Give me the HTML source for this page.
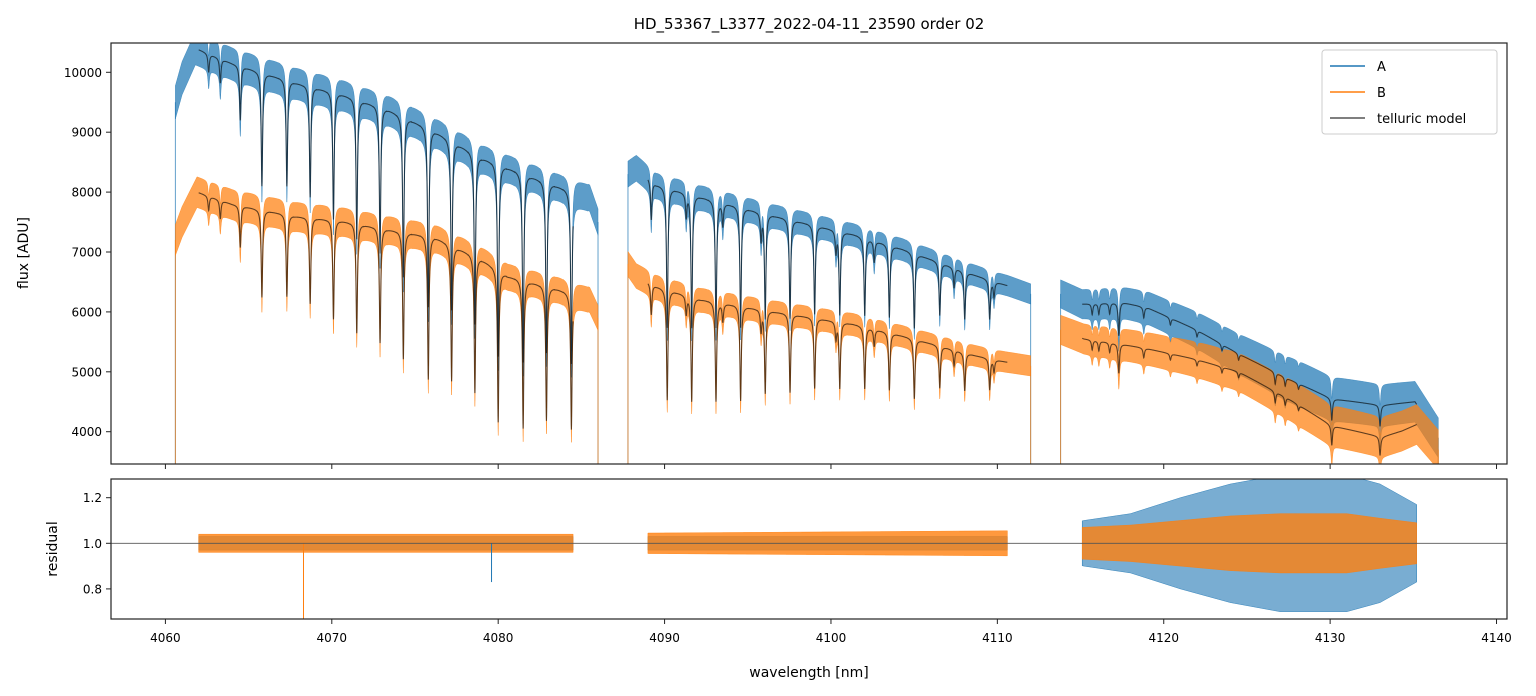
<!DOCTYPE html>
<html><head><meta charset="utf-8"><style>
body{margin:0;background:#fff}
svg{display:block;font-family:"DejaVu Sans","Liberation Sans",sans-serif}
</style></head><body>
<svg id="fig" width="1536" height="696" viewBox="0 0 1536 696" xmlns="http://www.w3.org/2000/svg">
<defs>
<clipPath id="cm"><rect x="111" y="43" width="1396" height="421"/></clipPath>
<clipPath id="cr"><rect x="111" y="479" width="1396" height="140"/></clipPath>
</defs>
<text x="809" y="29" font-size="15" text-anchor="middle">HD_53367_L3377_2022-04-11_23590  order 02</text>
<g id="mainMarks" clip-path="url(#cm)"></g>
<g id="resMarks" clip-path="url(#cr)"></g>
<rect x="111" y="43" width="1396" height="421" fill="none" stroke="#222" stroke-width="1.2"/>
<rect x="111" y="479" width="1396" height="140" fill="none" stroke="#222" stroke-width="1.2"/>
<g id="axes"></g>
<text transform="translate(28,253) rotate(-90)" font-size="14" text-anchor="middle">flux [ADU]</text>
<text transform="translate(57,549) rotate(-90)" font-size="14" text-anchor="middle">residual</text>
<text x="809" y="677" font-size="14" text-anchor="middle">wavelength [nm]</text>
<g>
<rect x="1322" y="50" width="175" height="84" rx="3" fill="#fff" fill-opacity="0.85" stroke="#ccc"/>
<line x1="1330" y1="66" x2="1365" y2="66" stroke="#1f77b4" stroke-width="1.5"/>
<text x="1377" y="71" font-size="13">A</text>
<line x1="1330" y1="92" x2="1365" y2="92" stroke="#ff7f0e" stroke-width="1.5"/>
<text x="1377" y="97" font-size="13">B</text>
<line x1="1330" y1="118" x2="1365" y2="118" stroke="#555" stroke-width="1.5"/>
<text x="1377" y="123" font-size="13">telluric model</text>
</g>
</svg>
<script>
// ---- data ----
const xTicks = [4060,4070,4080,4090,4100,4110,4120,4130,4140];
const yTicks = [4000,5000,6000,7000,8000,9000,10000];
const rTicks = [0.8,1.0,1.2];
const segObs = [[4060.6,4086.0],[4087.8,4112.0],[4113.8,4136.5]];
const segModel = [[4062.0,4084.5],[4089.0,4110.6],[4115.1,4135.2]];
const contALam = [4060.6,4061.0,4061.8,4064,4067.8,4070.6,4073.4,4076.2,4079.0,4080.6,4083.6,4085.5,4086.0, 4087.8,4088.3,4089.5,4092.2,4096.7,4101.3,4104.3,4108.7,4110.6,4112.0, 4113.8,4115.1,4117.5,4119.1,4121.9,4124.5,4127.5,4130.1,4133.1,4135.1,4136.5];
const contA = [9500,9900,10400,10150,9830,9635,9380,9020,8580,8410,8100,7900,7500, 8300,8400,8130,7920,7600,7300,7050,6610,6440,6300, 6300,6130,6160,6060,5710,5300,4880,4550,4440,4500,3900];
const contBLam = [4060.6,4061.0,4061.9,4064,4067.8,4070.6,4073.4,4076.2,4079.0,4080.6,4083.6,4085.5,4086.0, 4087.8,4088.3,4089.5,4092.2,4096.7,4101.3,4104.3,4108.7,4110.6,4112.0, 4113.8,4115.2,4117.5,4119.1,4121.9,4124.5,4127.5,4130.1,4133.1,4134.3,4135.2,4136.5];
const contB = [7200,7500,8000,7800,7600,7520,7380,7250,6880,6600,6380,6200,5900, 6800,6600,6430,6210,6000,5800,5600,5270,5160,5100, 5700,5550,5460,5380,5210,5000,4550,4100,3910,4010,4120,3700];
const lineCenters = [4062.6,4063.3,4064.5,4065.8,4067.3,4068.7,4070.1,4071.5,4072.9,4074.3,4075.8,4077.2,4078.6,4080.0,4081.5,4082.9,4084.4,
 4089.2,4090.16,4091.3,4091.63,4093.09,4093.5,4094.57,4095.8,4096.05,4097.54,4099.02,4100.3,4100.53,4102.03,4102.6,4103.51,4105.01,4106.54,4107.4,4108.04,4109.54,4109.8,
 4115.7,4116.1,4116.75,4117.3,4118.8,4120.4,4122.0,4123.5,4124.5,4126.7,4127.3,4128.1,4130.1,4133.0];
const lineDepths = [0.03,0.04,0.09,0.19,0.18,0.19,0.22,0.245,0.26,0.29,0.33,0.32,0.33,0.38,0.38,0.35,0.36,
 0.08,0.29,0.05,0.28,0.27,0.05,0.26,0.06,0.23,0.22,0.2,0.05,0.19,0.18,0.05,0.17,0.18,0.13,0.05,0.12,0.1,0.04,
 0.03,0.03,0.03,0.09,0.03,0.02,0.02,0.02,0.02,0.04,0.03,0.02,0.08,0.08];
const noiseLam = [4060,4086,4087,4112,4113,4120,4128,4137];
const noiseA = [280,220,220,170,230,280,380,330];
const noiseB = [260,210,210,170,240,280,350,330];
const resLam = [4062,4084.5,4089,4110.6,4115.2,4118,4121,4124,4127,4131,4133,4135.2];
const resA = [0.03,0.03,0.03,0.03,0.1,0.13,0.2,0.26,0.3,0.3,0.26,0.17];
const resB = [0.04,0.04,0.045,0.055,0.07,0.08,0.1,0.12,0.13,0.13,0.11,0.09];
// ---- scales ----
const X0=4056.73, X1=4140.63, PX0=111, PX1=1507;
const xS = l => PX0 + (l-X0)/(X1-X0)*(PX1-PX0);
const Y0=3461, Y1=10489;
const yM = v => 464 - (v-Y0)/(Y1-Y0)*421;
const R0=0.668, R1=1.282;
const yR = r => 619 - (r-R0)/(R1-R0)*140;
const NS='http://www.w3.org/2000/svg';
function interp(xs, ys, x){
  if(x<=xs[0]) return ys[0];
  for(let i=1;i<xs.length;i++){ if(x<=xs[i]){const t=(x-xs[i-1])/(xs[i]-xs[i-1]); return ys[i-1]+t*(ys[i]-ys[i-1]);} }
  return ys[ys.length-1];
}
function trans(l){
  let f=1;
  for(let i=0;i<lineCenters.length;i++){const d=l-lineCenters[i]; if(Math.abs(d)>1) continue; const g=0.05; f*=1-lineDepths[i]*g*g/(d*d+g*g);}
  return f;
}
function mk(tag, attrs, parent){const e=document.createElementNS(NS,tag); for(const k in attrs) e.setAttribute(k,attrs[k]); parent.appendChild(e); return e;}
const main=document.getElementById('mainMarks'), res=document.getElementById('resMarks'), ax=document.getElementById('axes');
const colA='#1f77b4', colB='#ff7f0e';
function band(lamK, valK, noiseK, seg, col, name){
  const up=[], lo=[];
  for(let l=seg[0]; l<=seg[1]+1e-9; l+=0.01){
    const c=interp(lamK,valK,l)*trans(l), n=interp(noiseLam,noiseK,l);
    up.push(xS(l).toFixed(2)+','+yM(c+n).toFixed(2)); lo.push(xS(l).toFixed(2)+','+yM(c-n).toFixed(2));
  }
  const p=mk('polygon',{points:up.concat(lo.reverse()).join(' '),fill:col,'fill-opacity':0.72,stroke:col,'stroke-width':0.5,'stroke-opacity':0.8},main);
  
  
  [seg[0],seg[1]].forEach(l=>{
    const e=mk('line',{x1:xS(l),x2:xS(l),y1:yM(interp(lamK,valK,l)),y2:470,stroke:col,'stroke-width':1,'stroke-opacity':0.7},main);
    
    
  });
}
segObs.forEach((s,i)=>{ band(contALam,contA,noiseA,s,colA,'spectrum-a-seg'+(i+1)); });
segObs.forEach((s,i)=>{ band(contBLam,contB,noiseB,s,colB,'spectrum-b-seg'+(i+1)); });
function model(lamK,valK,seg,name){
  const pts=[];
  for(let l=seg[0]; l<=seg[1]+1e-9; l+=0.01) pts.push(xS(l).toFixed(2)+','+yM(interp(lamK,valK,l)*trans(l)).toFixed(2));
  const p=mk('polyline',{points:pts.join(' '),fill:'none',stroke:'#000','stroke-opacity':0.62,'stroke-width':1.1},main);
  
  
}
segModel.forEach((s,i)=>{ model(contALam,contA,s,'telluric-model-a-seg'+(i+1)); model(contBLam,contB,s,'telluric-model-b-seg'+(i+1)); });
function rband(hw,col,seg,name,op){
  const up=[],lo=[];
  for(let l=seg[0]; l<=seg[1]+1e-9; l+=0.02){ const h=interp(resLam,hw,l); up.push(xS(l).toFixed(2)+','+yR(1+h).toFixed(2)); lo.push(xS(l).toFixed(2)+','+yR(1-h).toFixed(2)); }
  const p=mk('polygon',{points:up.concat(lo.reverse()).join(' '),fill:col,'fill-opacity':op,stroke:col,'stroke-width':0.5},res);
  
  
}
segModel.forEach((s,i)=>{ rband(resA,colA,s,'residual-a-seg'+(i+1),0.6); });
segModel.forEach((s,i)=>{ rband(resB,colB,s,'residual-b-seg'+(i+1),0.8); });
const sp1=mk('line',{x1:xS(4068.3),x2:xS(4068.3),y1:yR(1),y2:625,stroke:colB,'stroke-width':1},res);


const sp2=mk('line',{x1:xS(4079.6),x2:xS(4079.6),y1:yR(1),y2:yR(0.83),stroke:colA,'stroke-width':1},res);


const ref=mk('line',{x1:111,x2:1507,y1:yR(1),y2:yR(1),stroke:'#555','stroke-width':0.8},res);


xTicks.forEach(t=>{
  const x=xS(t);
  const a=mk('line',{x1:x,x2:x,y1:464,y2:469,stroke:'#222','stroke-width':1},ax);
  
  
  const b=mk('line',{x1:x,x2:x,y1:619,y2:624,stroke:'#222','stroke-width':1},ax);
  
  
  const tx=mk('text',{x:x,y:642,'font-size':12,'text-anchor':'middle'},ax); tx.textContent=t;
  
  
});
yTicks.forEach(t=>{
  const y=yM(t);
  const a=mk('line',{x1:106,x2:111,y1:y,y2:y,stroke:'#222','stroke-width':1},ax);
  
  
  const tx=mk('text',{x:102,y:y+4.5,'font-size':12,'text-anchor':'end'},ax); tx.textContent=t;
  
  
});
rTicks.forEach(t=>{
  const y=yR(t);
  const a=mk('line',{x1:106,x2:111,y1:y,y2:y,stroke:'#222','stroke-width':1},ax);
  
  
  const tx=mk('text',{x:102,y:y+4.5,'font-size':12,'text-anchor':'end'},ax); tx.textContent=t.toFixed(1);
  
  
});
</script>
</body></html>
